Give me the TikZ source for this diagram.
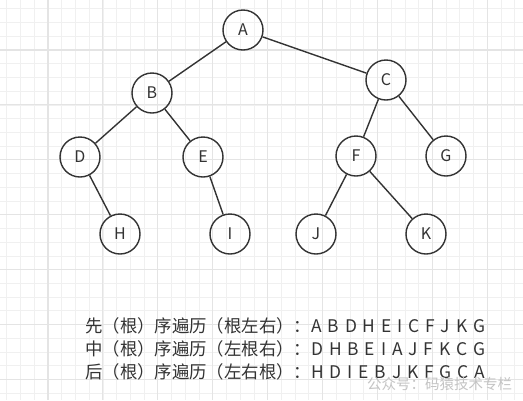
\documentclass[tikz,border=0pt]{standalone}
\usepackage{fontspec}
\setmainfont{Noto Sans CJK SC}[WordSpace=1.5]
\usepackage{tikz}
\definecolor{linegray}{HTML}{333333}
\definecolor{gridminor}{HTML}{F0F0F0}
\definecolor{gridmajor}{HTML}{E4E4E4}
\definecolor{markgray}{HTML}{C4C4C4}
\tikzset{%
  treenode/.style={circle, draw=linegray, line width=1.4pt, minimum size=40pt, inner sep=0pt,
    text=linegray, font=\fontsize{16}{16}\selectfont},
  treeedge/.style={draw=linegray, line width=1.4pt},
  ordertext/.style={anchor=west, inner sep=0pt, text=linegray, font=\fontsize{17.4}{17.4}\selectfont},
  minorline/.style={draw=gridminor, line width=0.8pt},
  majorline/.style={draw=gridmajor, line width=1.1pt}
}

\begin{document}
\begin{tikzpicture}[x=1pt, y=-1pt]
  \fill[white] (0,0) rectangle (523,400);
  \useasboundingbox (0,0) rectangle (523,400);

  % grid
  \foreach \i in {0,...,37} \draw[minorline] ({6.8+13.73*\i},0) -- ({6.8+13.73*\i},400);
  \foreach \i in {0,...,28} \draw[minorline] (0,{8.8+13.73*\i}) -- (523,{8.8+13.73*\i});
  \foreach \i in {0,...,8} \draw[majorline] ({48+54.92*\i},0) -- ({48+54.92*\i},400);
  \foreach \i in {0,...,6} \draw[majorline] (0,{50+54.92*\i}) -- (523,{50+54.92*\i});

  % tree
  \node[treenode] (a) at (243,30) {A};
  \node[treenode] (b) at (152,93) {B};
  \node[treenode] (c) at (386,80) {C};
  \node[treenode] (d) at (80,157) {D};
  \node[treenode] (e) at (203,157) {E};
  \node[treenode] (f) at (356,156) {F};
  \node[treenode] (g) at (446,156) {G};
  \node[treenode] (h) at (120,234) {H};
  \node[treenode] (i) at (230,234) {I};
  \node[treenode] (j) at (316,234) {J};
  \node[treenode] (k) at (426,234) {K};

  \draw[treeedge] (a) -- (b);
  \draw[treeedge] (a) -- (c);
  \draw[treeedge] (b) -- (d);
  \draw[treeedge] (b) -- (e);
  \draw[treeedge] (c) -- (f);
  \draw[treeedge] (c) -- (g);
  \draw[treeedge] (d) -- (h);
  \draw[treeedge] (e) -- (i);
  \draw[treeedge] (f) -- (j);
  \draw[treeedge] (f) -- (k);

  % traversal orders
  \node[ordertext] (pre) at (85,326) {先（根）序遍历（根左右）：A B D H E I C F J K G};
  \node[ordertext] (in) at (85,349) {中（根）序遍历（左根右）：D H B E I A J F K C G};
  \node[ordertext] (post) at (85,372) {后（根）序遍历（左右根）：H D I E B J K F G C A};

  \node[anchor=west, inner sep=0pt, text=markgray, font=\fontsize{14.5}{14.5}\selectfont] (mark) at (367,384) {公众号：码猿技术专栏};
\end{tikzpicture}
\end{document}
